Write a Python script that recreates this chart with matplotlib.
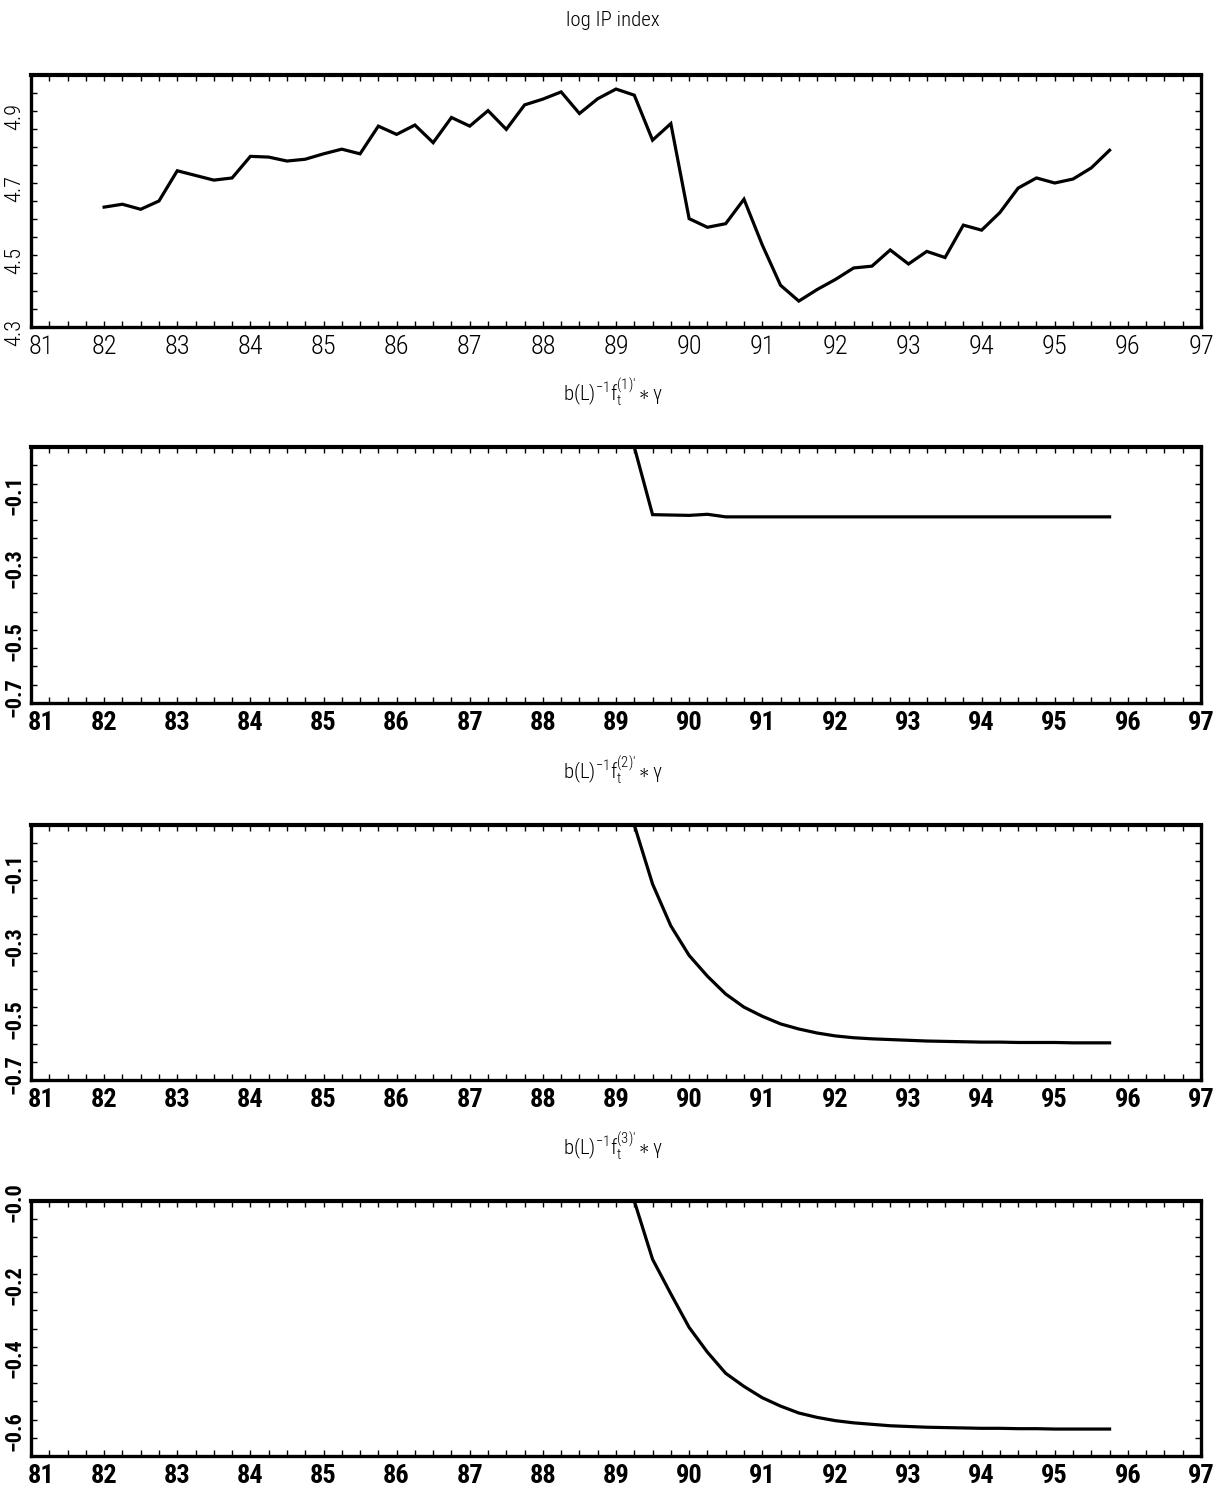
import numpy as np
import matplotlib
matplotlib.use("Agg")
import matplotlib.pyplot as plt
import matplotlib.transforms as mtransforms
from matplotlib.ticker import FixedLocator, FixedFormatter, MultipleLocator

plt.rcParams["mathtext.fontset"] = "custom"
plt.rcParams["mathtext.rm"] = "Roboto Condensed:light"
plt.rcParams["mathtext.it"] = "Roboto Condensed:light"
plt.rcParams["mathtext.bf"] = "Roboto Condensed:bold"

THIN = ["Roboto Condensed", "Roboto", "DejaVu Sans"]
BOLD = ["Roboto Condensed", "Liberation Sans", "DejaVu Sans"]

# quarterly dates 82Q1 .. 95Q4
quarters = np.arange(82.0, 96.0, 0.25)

# log industrial production index
log_ip = [4.633, 4.641, 4.627, 4.650, 4.734, 4.721, 4.708, 4.714,
          4.774, 4.772, 4.761, 4.766, 4.781, 4.794, 4.781, 4.858,
          4.835, 4.861, 4.812, 4.882, 4.858, 4.901, 4.849, 4.917,
          4.933, 4.953, 4.893, 4.934, 4.961, 4.944, 4.819, 4.865,
          4.601, 4.577, 4.587, 4.655, 4.528, 4.416, 4.372, 4.404,
          4.432, 4.464, 4.469, 4.514, 4.475, 4.510, 4.493, 4.583,
          4.569, 4.618, 4.686, 4.714, 4.700, 4.711, 4.742, 4.791]

# responses b(L)^-1 f_t^(i)' * gamma
shift1 = [0.0, 0.0, 0.0, 0.0, 0.0, 0.0, 0.0, 0.0,
          0.0, 0.0, 0.0, 0.0, 0.0, 0.0, 0.0, 0.0,
          0.0, 0.0, 0.0, 0.0, 0.0, 0.0, 0.0, 0.0,
          0.0, 0.0, 0.0, 0.0, 0.0, 0.0, -0.185, -0.186,
          -0.187, -0.184, -0.191, -0.191, -0.191, -0.191, -0.191, -0.191,
          -0.191, -0.191, -0.191, -0.191, -0.191, -0.191, -0.191, -0.191,
          -0.191, -0.191, -0.191, -0.191, -0.191, -0.191, -0.191, -0.191]

shift2 = [0.0, 0.0, 0.0, 0.0, 0.0, 0.0, 0.0, 0.0,
          0.0, 0.0, 0.0, 0.0, 0.0, 0.0, 0.0, 0.0,
          0.0, 0.0, 0.0, 0.0, 0.0, 0.0, 0.0, 0.0,
          0.0, 0.0, 0.0, 0.0, 0.0, 0.0, -0.162, -0.277,
          -0.358, -0.415, -0.464, -0.500, -0.525, -0.546, -0.560, -0.571,
          -0.579, -0.584, -0.587, -0.589, -0.591, -0.593, -0.594, -0.595,
          -0.596, -0.596, -0.597, -0.597, -0.597, -0.598, -0.598, -0.598]

shift3 = [0.0, 0.0, 0.0, 0.0, 0.0, 0.0, 0.0, 0.0,
          0.0, 0.0, 0.0, 0.0, 0.0, 0.0, 0.0, 0.0,
          0.0, 0.0, 0.0, 0.0, 0.0, 0.0, 0.0, 0.0,
          0.0, 0.0, 0.0, 0.0, 0.0, 0.0, -0.160, -0.255,
          -0.347, -0.415, -0.473, -0.509, -0.540, -0.563, -0.582, -0.594,
          -0.603, -0.609, -0.613, -0.617, -0.619, -0.621, -0.622, -0.623,
          -0.624, -0.624, -0.625, -0.625, -0.626, -0.626, -0.626, -0.626]

titles = ["log IP index",
          r"$\mathrm{b(L)}^{-1}\mathrm{f}_{\mathrm{t}}^{(1)\prime}\ast\gamma$",
          r"$\mathrm{b(L)}^{-1}\mathrm{f}_{\mathrm{t}}^{(2)\prime}\ast\gamma$",
          r"$\mathrm{b(L)}^{-1}\mathrm{f}_{\mathrm{t}}^{(3)\prime}\ast\gamma$"]
series = [log_ip, shift1, shift2, shift3]
ylims = [(4.3, 5.0), (-0.7, 0.0), (-0.7, 0.0), (-0.7, 0.0)]
yticks = [[4.3, 4.5, 4.7, 4.9], [-0.1, -0.3, -0.5, -0.7],
          [-0.1, -0.3, -0.5, -0.7], [0.0, -0.2, -0.4, -0.6]]
ylabels = [["4.3", "4.5", "4.7", "4.9"],
           ["\u22120.1", "\u22120.3", "\u22120.5", "\u22120.7"],
           ["\u22120.1", "\u22120.3", "\u22120.5", "\u22120.7"],
           ["\u22120.0", "\u22120.2", "\u22120.4", "\u22120.6"]]
xticks = list(range(81, 98))

W, H = 1220, 1488
fig = plt.figure(figsize=(W / 100, H / 100), dpi=100)

# panel boxes in pixels (top, bottom)
boxes = [(75, 327), (447, 703), (825, 1080), (1201, 1456)]
left_px, right_px = 31, 1201


def shift_label(lab, dx_px, dy_px):
    off = mtransforms.ScaledTranslation(dx_px / 100, dy_px / 100, fig.dpi_scale_trans)
    lab.set_transform(lab.get_transform() + off)


for i, (top, bot) in enumerate(boxes):
    ax = fig.add_axes([left_px / W, 1 - bot / H, (right_px - left_px) / W, (bot - top) / H])
    ax.plot(quarters, series[i], color="black", lw=2.3, clip_on=False,
            solid_joinstyle="miter", zorder=3)
    ax.set_xlim(81, 97)
    ax.set_ylim(*ylims[i])

    ax.xaxis.set_major_locator(FixedLocator(xticks))
    ax.xaxis.set_minor_locator(MultipleLocator(0.25))
    ax.yaxis.set_major_locator(FixedLocator(yticks[i]))
    ax.yaxis.set_major_formatter(FixedFormatter(ylabels[i]))
    ax.yaxis.set_minor_locator(MultipleLocator(0.05))
    ax.tick_params(which="both", direction="in", top=True, right=True,
                   length=4, width=1.0)
    ax.tick_params(axis="x", pad=6)
    ax.tick_params(axis="y", pad=4)

    for s in ax.spines.values():
        s.set_linewidth(2.4)
    ax.spines["top"].set_linewidth(3.0)

    if i == 0:
        fam, wt, xs, ys = THIN, "light", 19, 16
    else:
        fam, wt, xs, ys = BOLD, "bold", 19, 16
    ax.set_xticklabels([str(t) for t in xticks], family=fam, weight=wt, fontsize=xs)
    xl = ax.get_xticklabels()
    shift_label(xl[0], 10, 0)
    for lab in ax.get_yticklabels():
        lab.set_family(fam)
        lab.set_weight(wt)
        lab.set_fontsize(ys)
        lab.set_rotation(90)
    yl = ax.get_yticklabels()
    if i in (1, 2):
        shift_label(yl[-1], 0, 17)
    if i == 3:
        shift_label(yl[0], 0, 10)

    fig.text(0.502, 1 - (top - 55) / H, titles[i], ha="center", va="center",
             family=THIN, weight="light", fontsize=15)

fig.savefig("out.png", dpi=100)
